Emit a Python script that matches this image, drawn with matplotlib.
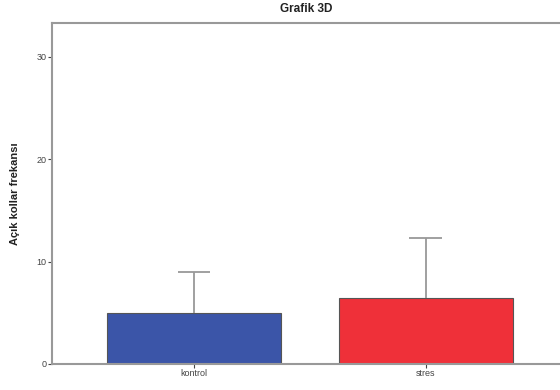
import matplotlib
matplotlib.use('Agg')
import matplotlib.pyplot as plt

plt.rcParams['font.family'] = ['Liberation Sans', 'DejaVu Sans']

groups = ['kontrol', 'stres']
means = [5.0, 6.45]
err_up = [4.0, 5.85]
colors = ['#3b55a8', '#ef3039']

fig = plt.figure(figsize=(5.6, 3.9), dpi=100)
ax = fig.add_axes([0.093, 0.067, 0.907, 0.874])

x = [0, 1]
ax.bar(x, means, width=0.754, color=colors, edgecolor='#555555', linewidth=0.8, zorder=2)
# one-sided error bars (upper only)
tops = [m + e for m, e in zip(means, err_up)]
ax.vlines(x, means, tops, color='#999999', linewidth=1.3, zorder=3)
ax.hlines(tops, [xi - 0.071 for xi in x], [xi + 0.071 for xi in x],
          color='#999999', linewidth=1.3, zorder=3)

ax.set_xlim(-0.612, 1.578)
ax.set_ylim(0, 33.3)
ax.set_xticks(x)
ax.set_xticklabels(groups)
ax.set_yticks([0, 10, 20, 30])
ax.tick_params(axis='both', labelsize=6.5, colors='#444444', length=3, width=0.8, pad=1)

for s in ['left', 'bottom', 'top']:
    ax.spines[s].set_color('#999999')
    ax.spines[s].set_linewidth(1.5)
ax.spines['right'].set_visible(False)

ax.set_ylabel('Açık kollar frekansı', fontsize=8, fontweight='bold', color='#222222', labelpad=12)
ax.set_title('Grafik 3D', fontsize=8.5, fontweight='bold', color='#222222', pad=8)

fig.savefig('out.png', dpi=100)
